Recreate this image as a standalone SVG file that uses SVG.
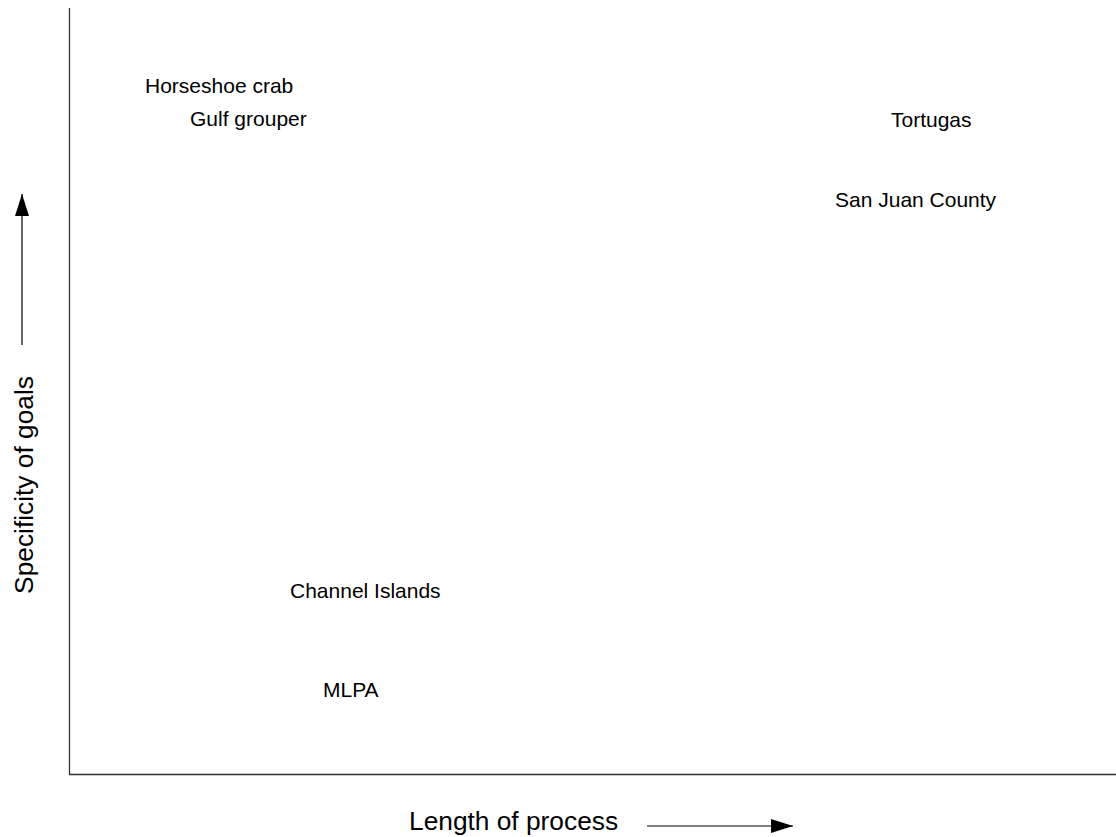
<svg xmlns="http://www.w3.org/2000/svg" width="1116" height="837" viewBox="0 0 1116 837">
<defs>
<style>
.lbl{font-family:"Liberation Sans",Arial,sans-serif;font-size:21px;fill:#000}
.ax{font-family:"Liberation Sans",Arial,sans-serif;font-size:26.3px;fill:#000}
.axis{stroke:#333;stroke-width:1.3;fill:none}
.arr{stroke:#000;stroke-width:1.2;fill:none}
</style>
<marker id="ah" markerUnits="userSpaceOnUse" markerWidth="24" markerHeight="16" refX="22" refY="7" orient="auto">
<path d="M0,0 L22,7 L0,14 Z" fill="#000"/>
</marker>
</defs>
<rect width="1116" height="837" fill="#fff"/>
<g id="connectors">
<path class="axis" d="M69.5,8 V774.5 H1116"/>
<line class="arr" x1="22" y1="345" x2="22" y2="194" marker-end="url(#ah)"/>
<line class="arr" x1="647" y1="826" x2="793" y2="826" marker-end="url(#ah)"/>
</g>
<g id="axis-x"><text class="ax" x="409" y="830">Length of process</text></g>
<g id="axis-y"><text class="ax" transform="rotate(-90)" x="-485" y="33" text-anchor="middle">Specificity of goals</text></g>
<g id="horseshoe-crab"><text class="lbl" x="145" y="93">Horseshoe crab</text></g>
<g id="gulf-grouper"><text class="lbl" x="190" y="126">Gulf grouper</text></g>
<g id="tortugas"><text class="lbl" x="891" y="127">Tortugas</text></g>
<g id="san-juan-county"><text class="lbl" x="835" y="207">San Juan County</text></g>
<g id="channel-islands"><text class="lbl" x="290" y="598">Channel Islands</text></g>
<g id="mlpa"><text class="lbl" x="323" y="697">MLPA</text></g>
</svg>
